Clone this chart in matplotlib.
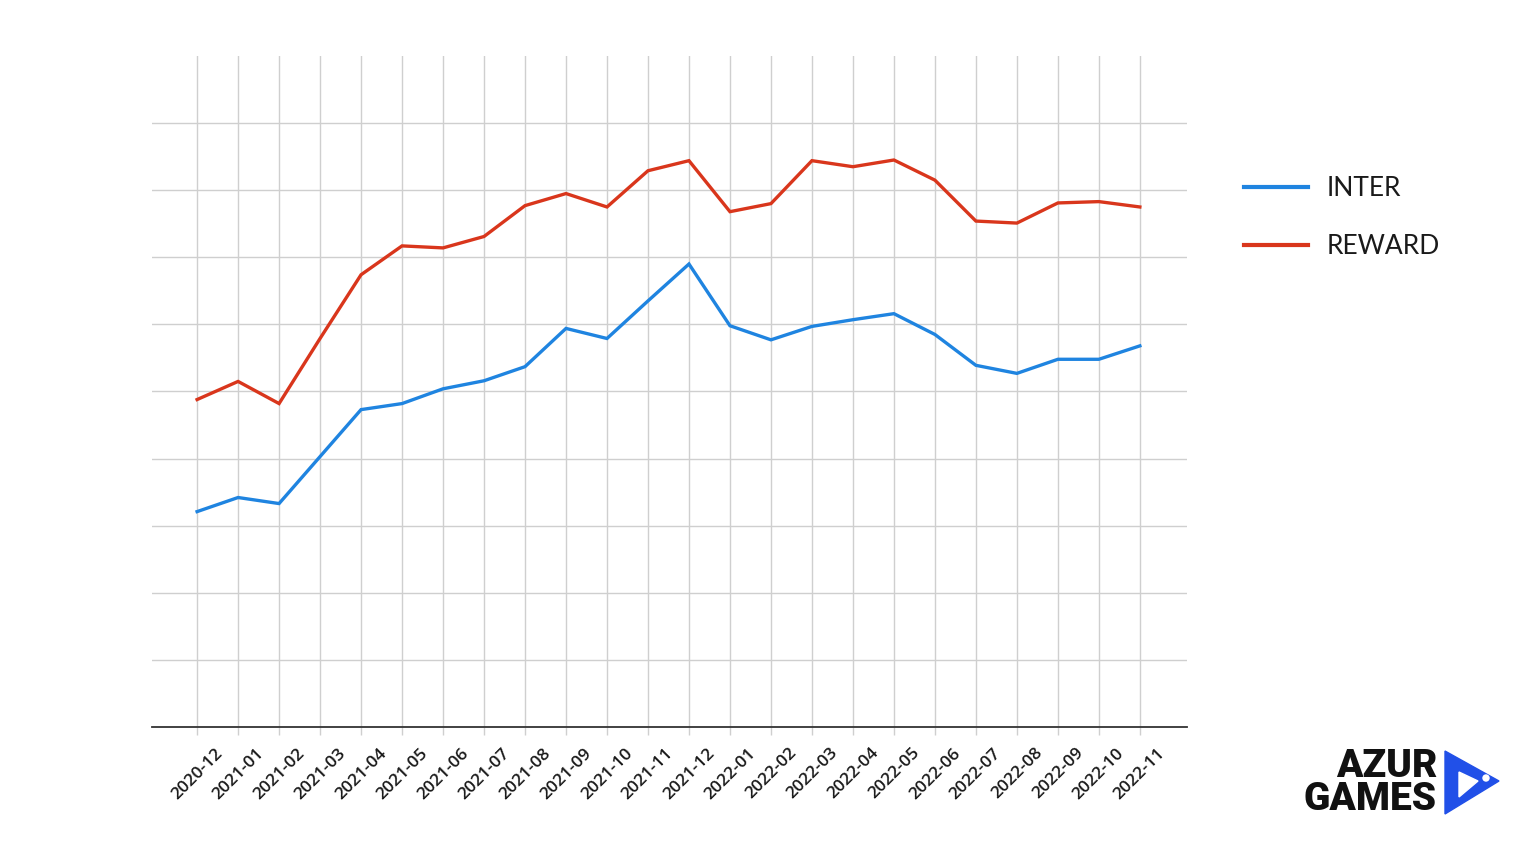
import matplotlib
matplotlib.use("Agg")
import matplotlib.pyplot as plt
from matplotlib.patches import Polygon, Circle

# months on the x axis
months = ["2020-12", "2021-01", "2021-02", "2021-03", "2021-04", "2021-05",
          "2021-06", "2021-07", "2021-08", "2021-09", "2021-10", "2021-11",
          "2021-12", "2022-01", "2022-02", "2022-03", "2022-04", "2022-05",
          "2022-06", "2022-07", "2022-08", "2022-09", "2022-10", "2022-11"]

# values (no axis units shown, gridline = 1 unit)
inter = [3.21, 3.42, 3.33, 4.03, 4.73, 4.82, 5.04, 5.16, 5.37, 5.94, 5.79, 6.35,
         6.90, 5.98, 5.77, 5.97, 6.07, 6.16, 5.85, 5.39, 5.27, 5.48, 5.48, 5.68]
reward = [4.88, 5.15, 4.82, 5.79, 6.74, 7.17, 7.14, 7.31, 7.77, 7.95, 7.75, 8.29,
          8.44, 7.68, 7.80, 8.44, 8.35, 8.45, 8.15, 7.54, 7.51, 7.81, 7.83, 7.75]

BLUE = "#1f84e0"
RED = "#d9361c"
GRID = "#cfcfcf"

fig = plt.figure(figsize=(15.36, 8.52), dpi=100, facecolor="white")
ax = fig.add_axes([152/1536, 1-727/852, (1187-152)/1536, (727-56)/852])

x = list(range(len(months)))
ax.plot(x, inter, color=BLUE, lw=2.4, label="INTER", solid_joinstyle="miter")
ax.plot(x, reward, color=RED, lw=2.4, label="REWARD", solid_joinstyle="miter")

ax.set_xlim(-1.1, len(months) - 1 + 1.15)
ax.set_ylim(0, 10)
ax.set_yticks(range(1, 10))
ax.set_xticks(x)
ax.set_xticklabels(months, rotation=45, ha="center", va="top",
                   family=["Open Sans", "DejaVu Sans"], fontsize=12.5,
                   fontweight="semibold", color="#1a1a1a")
ax.tick_params(axis="y", left=False, labelleft=False)
ax.tick_params(axis="x", length=6, width=1, color=GRID, pad=7)
ax.grid(True, color=GRID, lw=1)
ax.set_axisbelow(True)
for s in ["top", "right", "left"]:
    ax.spines[s].set_visible(False)
ax.spines["bottom"].set_color("#333333")
ax.spines["bottom"].set_linewidth(1.3)

# legend on the right
leg = fig.legend(loc="upper left", bbox_to_anchor=(1231/1536, 1-163/852),
                 frameon=False, handlelength=2.4, handletextpad=0.72,
                 labelspacing=1.25, borderpad=0,
                 prop={"family": ["Lato", "DejaVu Sans"], "size": 19})
for t in leg.get_texts():
    t.set_color("#1a1a1a")
for h in leg.get_lines():
    h.set_linewidth(3)

# AZUR GAMES logo
fig.text(1437/1536, 1-783/852, "AZUR\nGAMES", ha="right", va="center",
         multialignment="right", linespacing=0.88,
         family=["Roboto", "DejaVu Sans"], fontweight="heavy", fontsize=28,
         color="#111111")
logo = fig.add_axes([0, 0, 1, 1], facecolor="none")
logo.set_xlim(0, 1536)
logo.set_ylim(852, 0)
logo.axis("off")
logo.add_patch(Polygon([(1445, 751), (1445, 814), (1499, 781)], closed=True,
                       color="#2150e8"))
logo.add_patch(Polygon([(1459, 772), (1459, 797), (1478, 781)], closed=True,
                       color="white"))
logo.add_patch(Circle((1486, 778), 3, color="white"))

fig.savefig("out.png", dpi=100, facecolor="white")
